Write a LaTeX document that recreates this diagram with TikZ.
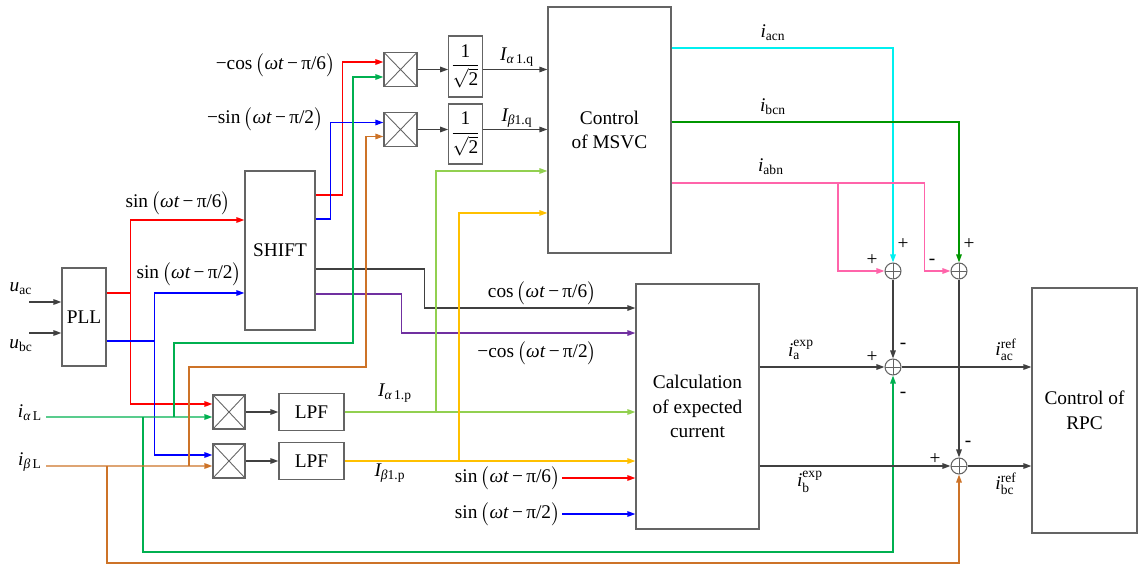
\documentclass[tikz,border=0pt]{standalone}
\usepackage{fontspec}
\usepackage{amsmath}
\setmainfont{Liberation Serif}
\usetikzlibrary{positioning, arrows.meta}

\definecolor{boxgray}{RGB}{100,100,100}
\definecolor{linegray}{RGB}{64,64,64}
\definecolor{cred}{RGB}{255,0,0}
\definecolor{cblue}{RGB}{0,0,255}
\definecolor{cgreen}{RGB}{0,176,80}
\definecolor{corange}{RGB}{205,115,40}
\definecolor{lgreen}{RGB}{146,208,80}
\definecolor{cyellow}{RGB}{255,192,0}
\definecolor{cpurple}{RGB}{112,48,160}
\definecolor{ccyan}{RGB}{0,240,240}
\definecolor{dgreen}{RGB}{0,150,0}
\definecolor{cpink}{RGB}{255,100,170}

\newcommand{\fsig}[2]{#1\,$\bigl($\textit{ωt}\,−\,π/#2$\bigr)$}
\newcommand{\rtwo}{$\dfrac{\text{1}}{\sqrt{\text{2}}}$}

\begin{document}
\begin{tikzpicture}[x=0.02cm, y=-0.02cm, font=\fontsize{11}{14}\selectfont,
box/.style={rectangle, draw=boxgray, line width=0.7pt, align=center, inner sep=1pt},
mult/.style={rectangle, draw=boxgray, line width=0.7pt, minimum width=0.66cm, minimum height=0.68cm, inner sep=0pt,
  path picture={\draw[line width=0.5pt, boxgray] (path picture bounding box.north west) -- (path picture bounding box.south east)
  (path picture bounding box.south west) -- (path picture bounding box.north east);}},
sumnode/.style={circle, draw=boxgray, line width=0.6pt, minimum size=0.32cm, inner sep=0pt,
  path picture={\draw[line width=0.5pt, boxgray] (path picture bounding box.north) -- (path picture bounding box.south)
  (path picture bounding box.west) -- (path picture bounding box.east);}},
sig/.style={line width=0.8pt, -{Triangle[length=1.6mm, width=1.1mm]}},
lbl/.style={inner sep=1pt},
sgn/.style={inner sep=0pt},
]
\useasboundingbox (0,0) rectangle (1139,567);

% Blocks
\node[box, minimum width=0.88cm, minimum height=1.96cm] (pll) at (84,317) {PLL};
\node[box, minimum width=1.4cm, minimum height=3.18cm] (shift) at (280,250.5) {SHIFT};
\node[mult] (mx1) at (400.5,69.5) {};
\node[mult] (mx2) at (400.5,129.5) {};
\node[box, minimum width=0.66cm, minimum height=1.22cm] (rt1) at (465.5,66.5) {\rtwo};
\node[box, minimum width=0.66cm, minimum height=1.2cm] (rt2) at (465.5,134) {\rtwo};
\node[box, minimum width=2.46cm, minimum height=4.92cm] (msvc) at (609.5,130) {Control\\of MSVC};
\node[mult, minimum width=0.64cm] (mx3) at (229,412) {};
\node[mult, minimum width=0.64cm] (mx4) at (229,461) {};
\node[box, minimum width=1.3cm, minimum height=0.74cm] (lpf1) at (311.5,412) {LPF};
\node[box, minimum width=1.3cm, minimum height=0.74cm] (lpf2) at (311.5,461) {LPF};
\node[box, minimum width=2.46cm, minimum height=4.9cm] (calc) at (697.5,406.5) {Calculation\\of expected\\current};
\node[box, minimum width=2.1cm, minimum height=4.9cm] (rpc) at (1084.5,410.5) {Control of\\RPC};

% Summing points
\node[sumnode] (s1) at (893,271) {};
\node[sumnode] (s2) at (959,271) {};
\node[sumnode] (s3) at (893,367) {};
\node[sumnode] (s4) at (959,466) {};

% Inputs
\coordinate (uac) at (29,302);
\coordinate (ubc) at (29,333);
\coordinate (ial) at (46,417);
\coordinate (ibl) at (46,466);
\node[lbl] (uaclbl) at (21,289) {$\textit{u}_{\text{ac}}$};
\node[lbl] (ubclbl) at (21,346) {$\textit{u}_{\text{bc}}$};
\node[lbl] (iallbl) at (30,413) {$\textit{i}_{\textit{α}\,\text{L}}$};
\node[lbl] (ibllbl) at (30,462) {$\textit{i}_{\textit{β}\,\text{L}}$};
\draw[sig, linegray] (uac) -- (uac -| pll.west);
\draw[sig, linegray] (ubc) -- (ubc -| pll.west);

% PLL outputs
\draw[sig, cred] ([yshift=0.48cm]pll.east) -- ++(24,0) coordinate (rj) |- ([yshift=0.61cm]shift.west);
\draw[sig, cred] (rj) |- ([yshift=0.16cm]mx3.west);
\draw[sig, cblue] ([yshift=-0.48cm]pll.east) -- ++(48,0) coordinate (bj) |- ([yshift=-0.85cm]shift.west);
\draw[sig, cblue] (bj) |- ([yshift=0.12cm]mx4.west);
\node[lbl] (sin6lbl) at (178,203) {\fsig{sin}{6}};
\node[lbl] (sin2lbl) at (189,274) {\fsig{sin}{2}};

% SHIFT outputs
\draw[sig, cred] ([yshift=1.11cm]shift.east) -- ++(27,0) |- ([yshift=0.15cm]mx1.west);
\draw[sig, cblue] ([yshift=0.63cm]shift.east) -- ++(15,0) |- ([yshift=0.14cm]mx2.west);
\draw[sig, linegray] ([yshift=-0.37cm]shift.east) -- ++(109,0) |- ([yshift=1.97cm]calc.west);
\draw[sig, cpurple] ([yshift=-0.87cm]shift.east) -- ++(86,0) |- ([yshift=1.47cm]calc.west);
\node[lbl, anchor=east] (mcos6lbl) at (337,65) {−\fsig{cos}{6}};
\node[lbl, anchor=east] (msin2lbl) at (325,119) {−\fsig{sin}{2}};
\node[lbl] (cos6lbl) at (542,293) {\fsig{cos}{6}};
\node[lbl] (mcos2lbl) at (537,353) {−\fsig{cos}{2}};

% Load currents
\coordinate (ga) at (174,417);
\coordinate (gb) at (143,417);
\coordinate (oa) at (189,466);
\coordinate (ob) at (107,466);
\draw[sig, cgreen] (ial) -- ([yshift=-0.1cm]mx3.west);
\draw[sig, cgreen] (ga) |- (353,343) |- ([yshift=-0.15cm]mx1.west);
\draw[sig, cgreen] (gb) -- ++(0,135) -| (s3.south);
\draw[sig, corange] (ibl) -- ([yshift=-0.1cm]mx4.west);
\draw[sig, corange] (oa) |- (366,367) |- ([yshift=-0.14cm]mx2.west);
\draw[sig, corange] (ob) -- ++(0,97) -| (s4.south);

% q-axis path
\draw[sig, linegray] (mx1.east) -- (mx1.east -| rt1.west);
\draw[sig, linegray] (mx1.east -| rt1.east) -- (mx1.east -| msvc.west);
\draw[sig, linegray] (mx2.east) -- (mx2.east -| rt2.west);
\draw[sig, linegray] (mx2.east -| rt2.east) -- (mx2.east -| msvc.west);
\node[lbl] (iaqlbl) at (517,57) {$\textit{I}_{\textit{α}\,\text{1.q}}$};
\node[lbl] (ibqlbl) at (517,118) {$\textit{I}_{\textit{β}\text{1.q}}$};

% p-axis path
\draw[sig, linegray] (mx3) -- (lpf1);
\draw[sig, linegray] (mx4) -- (lpf2);
\coordinate (lga) at (436,412);
\coordinate (ya) at (459,461);
\draw[sig, lgreen] (lpf1) -- (lpf1 -| calc.west);
\draw[sig, lgreen] (lga) |- ([yshift=-0.82cm]msvc.west);
\draw[sig, cyellow] (lpf2) -- (lpf2 -| calc.west);
\draw[sig, cyellow] (ya) |- ([yshift=-1.66cm]msvc.west);
\node[lbl] (iaplbl) at (395,393) {$\textit{I}_{\textit{α}\,\text{1.p}}$};
\node[lbl] (ibplbl) at (390,473) {$\textit{I}_{\textit{β}\text{1.p}}$};

% Reference signals into calculation
\node[lbl, anchor=east] (sinAlbl) at (562,478) {\fsig{sin}{6}};
\node[lbl, anchor=east] (sinBlbl) at (562,514) {\fsig{sin}{2}};
\draw[sig, cred] (sinAlbl.east) -- (sinAlbl.east -| calc.west);
\draw[sig, cblue] (sinBlbl.east) -- (sinBlbl.east -| calc.west);

% MSVC outputs
\draw[sig, ccyan] ([yshift=1.64cm]msvc.east) -| (s1.north);
\draw[sig, dgreen] ([yshift=0.16cm]msvc.east) -| (s2.north);
\draw[sig, cpink] ([yshift=-1.06cm]msvc.east) -- ++(253,0) |- (s2.west);
\coordinate (pa) at (838,183);
\draw[sig, cpink] (pa) |- (s1.west);
\node[lbl] (iacnlbl) at (773,33) {$\textit{i}_{\text{acn}}$};
\node[lbl] (ibcnlbl) at (773,107) {$\textit{i}_{\text{bcn}}$};
\node[lbl] (iabnlbl) at (771,167) {$\textit{i}_{\text{abn}}$};

% Sums and references
\draw[sig, linegray] (s1) -- (s3);
\draw[sig, linegray] (s2) -- (s4);
\draw[sig, linegray] (s3 -| calc.east) -- (s3);
\draw[sig, linegray] (s4 -| calc.east) -- (s4);
\draw[sig, linegray] (s3) -- (s3 -| rpc.west);
\draw[sig, linegray] (s4) -- (s4 -| rpc.west);
\node[lbl] (iaexplbl) at (801,350) {$\textit{i}_{\text{a}}^{\text{exp}}$};
\node[lbl] (ibexplbl) at (810,482) {$\textit{i}_{\text{b}}^{\text{exp}}$};
\node[lbl] (iacreflbl) at (1006,350) {$\textit{i}_{\text{ac}}^{\text{ref}}$};
\node[lbl] (ibcreflbl) at (1006,484) {$\textit{i}_{\text{bc}}^{\text{ref}}$};

% Signs
\node[sgn] (s1a) at (872,260) {+};
\node[sgn] (s1b) at (903,244) {+};
\node[sgn] (s2a) at (932,262) {-};
\node[sgn] (s2b) at (969,244) {+};
\node[sgn] (s3a) at (872,357) {+};
\node[sgn] (s3b) at (903,346) {-};
\node[sgn] (s3c) at (903,395) {-};
\node[sgn] (s4a) at (935,459) {+};
\node[sgn] (s4b) at (968,444) {-};

\end{tikzpicture}
\end{document}
